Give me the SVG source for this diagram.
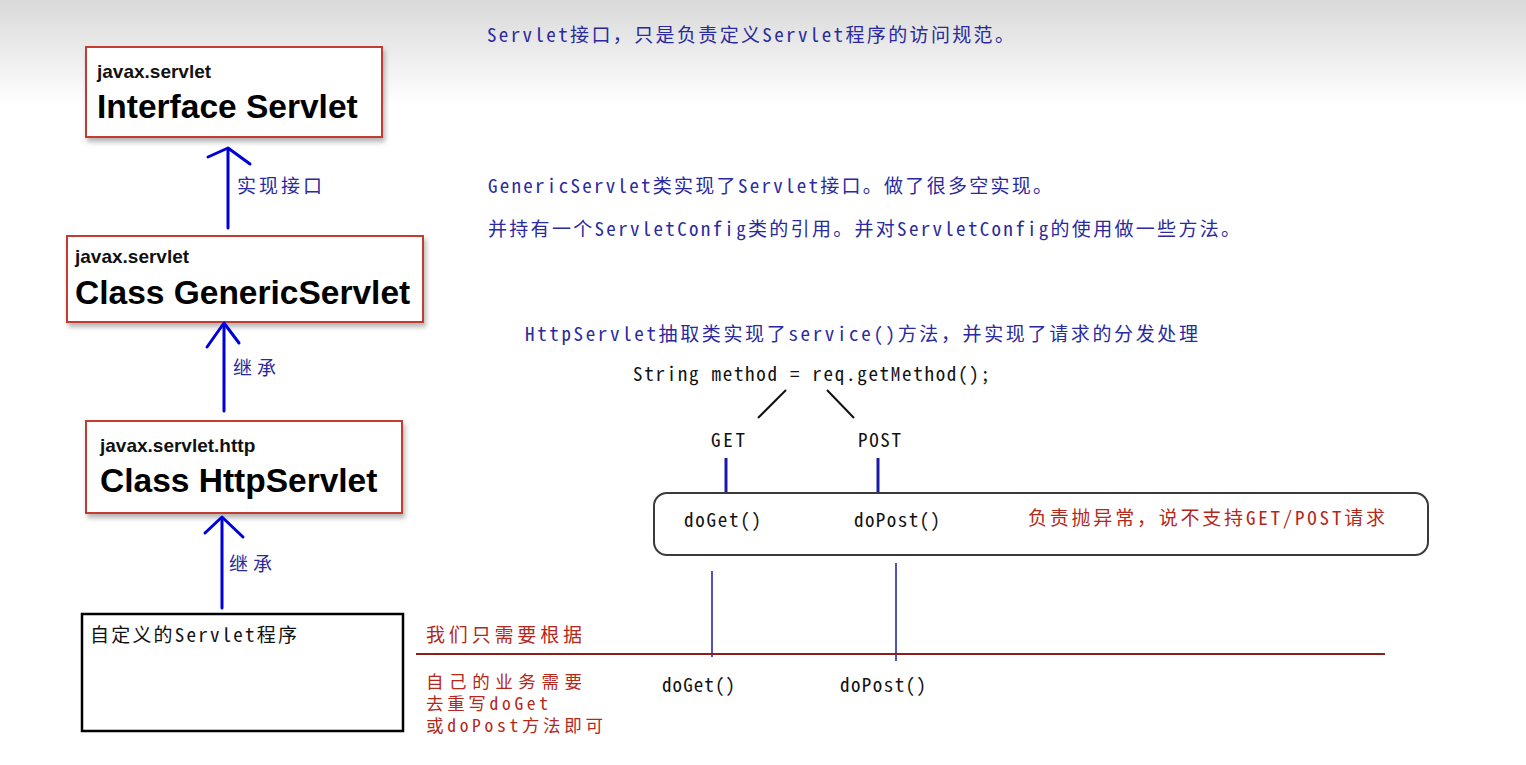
<svg xmlns="http://www.w3.org/2000/svg" width="1526" height="765" viewBox="0 0 1526 765">
<defs>
<linearGradient id="bg" x1="0" y1="0" x2="0" y2="1">
<stop offset="0" stop-color="#d9d9d9"/>
<stop offset="1" stop-color="#ffffff"/>
</linearGradient>
<filter id="sh" x="-5%" y="-5%" width="115%" height="125%">
<feDropShadow dx="2" dy="4" stdDeviation="2.5" flood-color="#777" flood-opacity="0.55"/>
</filter>
<style>
.box{fill:#fff;stroke:#c43b32;stroke-width:2;filter:url(#sh)}
.pkg{font-family:'Liberation Sans',Arial,sans-serif;font-weight:bold;font-size:19px;fill:#111}
.cls{font-family:'Liberation Sans',Arial,sans-serif;font-weight:bold;font-size:33.5px;fill:#000}
.m{font-family:'Noto Sans Mono CJK SC','DejaVu Sans Mono','Noto Sans CJK SC',monospace;font-size:19px}
.s{font-size:17.5px}
.blue{fill:#2a2a9e}
.red{fill:#b4281c}
.blk{fill:#111}
.arr{stroke:#0000d8;stroke-width:3;fill:none;stroke-linecap:round;stroke-linejoin:round}
.thin{stroke:#1a1aa8;stroke-width:1.5;fill:none}
.thick{stroke:#1a1aa8;stroke-width:3;fill:none}
.diag{stroke:#111;stroke-width:2;fill:none}
</style>
</defs>
<rect x="0" y="0" width="1526" height="765" fill="#fff"/>
<rect x="0" y="0" width="1526" height="105" fill="url(#bg)"/>

<g id="node-interface-servlet">
<rect class="box" x="86" y="47" width="296" height="90"/>
<text class="pkg" x="97" y="78">javax.servlet</text>
<text class="cls" x="97" y="118">Interface Servlet</text>
</g>

<g id="node-generic-servlet">
<rect class="box" x="67" y="236" width="356" height="86"/>
<text class="pkg" x="75" y="263">javax.servlet</text>
<text class="cls" x="75" y="304">Class GenericServlet</text>
</g>

<g id="node-http-servlet">
<rect class="box" x="86" y="421" width="316" height="92"/>
<text class="pkg" x="100" y="452">javax.servlet.http</text>
<text class="cls" x="100" y="492">Class HttpServlet</text>
</g>

<g id="node-custom-servlet">
<rect x="82" y="614" width="321" height="117" fill="#fff" stroke="#000" stroke-width="2.5"/>
<text class="m blk" x="90" y="642" textLength="207" lengthAdjust="spacing">自定义的Servlet程序</text>
</g>

<g id="connectors">
<line class="arr" x1="228" y1="228" x2="228" y2="149"/>
<polyline class="arr" points="208,157 228,148 250,164"/>
<line class="arr" x1="224" y1="411" x2="224" y2="324"/>
<polyline class="arr" points="207,347 224,323 239,343"/>
<line class="arr" x1="222" y1="608" x2="222" y2="518"/>
<polyline class="arr" points="205,533 222,517 243,537"/>
<line class="diag" x1="786" y1="390" x2="758" y2="418"/>
<line class="diag" x1="827" y1="390" x2="854" y2="418"/>
<line class="thick" x1="726" y1="458" x2="726" y2="499"/>
<line class="thick" x1="878" y1="458" x2="878" y2="496"/>
<line class="thin" x1="712" y1="571" x2="712" y2="657"/>
<line class="thin" x1="896" y1="563" x2="896" y2="661"/>
</g>

<g id="labels">
<text class="m blue" x="237" y="193" textLength="85" lengthAdjust="spacing">实现接口</text>
<text class="m blue" x="233" y="375" textLength="43" lengthAdjust="spacing">继承</text>
<text class="m blue" x="229" y="571" textLength="43" lengthAdjust="spacing">继承</text>
</g>

<g id="notes">
<text class="m blue" x="487" y="42" textLength="527" lengthAdjust="spacing">Servlet接口，只是负责定义Servlet程序的访问规范。</text>
<text class="m blue" x="488" y="193" textLength="564" lengthAdjust="spacing">GenericServlet类实现了Servlet接口。做了很多空实现。</text>
<text class="m blue" x="488" y="236" textLength="752" lengthAdjust="spacing">并持有一个ServletConfig类的引用。并对ServletConfig的使用做一些方法。</text>
<text class="m blue" x="525" y="341" textLength="673" lengthAdjust="spacing">HttpServlet抽取类实现了service()方法，并实现了请求的分发处理</text>
</g>

<g id="node-dispatch">
<text class="m blk" x="633" y="381" textLength="357" lengthAdjust="spacing">String method = req.getMethod();</text>
<text class="m blk" x="711" y="447" textLength="34" lengthAdjust="spacing">GET</text>
<text class="m blk" x="858" y="447" textLength="43" lengthAdjust="spacing">POST</text>
</g>

<g id="node-default-methods">
<rect x="654" y="493" width="774" height="62" rx="13" ry="13" fill="#fff" stroke="#3a3a3a" stroke-width="2"/>
<text class="m blk" x="684" y="527" textLength="77" lengthAdjust="spacing">doGet()</text>
<text class="m blk" x="854" y="527" textLength="86" lengthAdjust="spacing">doPost()</text>
<text class="m red" x="1028" y="525" textLength="357" lengthAdjust="spacing">负责抛异常，说不支持GET/POST请求</text>
</g>

<g id="node-override">
<line x1="416" y1="654" x2="1385" y2="654" stroke="#8b1f1a" stroke-width="2"/>
<text class="m red" x="426" y="642" textLength="156" lengthAdjust="spacing">我们只需要根据</text>
<text class="m s red" x="426" y="688" textLength="156" lengthAdjust="spacing">自己的业务需要</text>
<text class="m s red" x="426" y="710" textLength="122" lengthAdjust="spacing">去重写doGet</text>
<text class="m s red" x="426" y="732" textLength="177" lengthAdjust="spacing">或doPost方法即可</text>
<text class="m blk" x="662" y="692" textLength="73" lengthAdjust="spacing">doGet()</text>
<text class="m blk" x="840" y="692" textLength="86" lengthAdjust="spacing">doPost()</text>
</g>
</svg>
